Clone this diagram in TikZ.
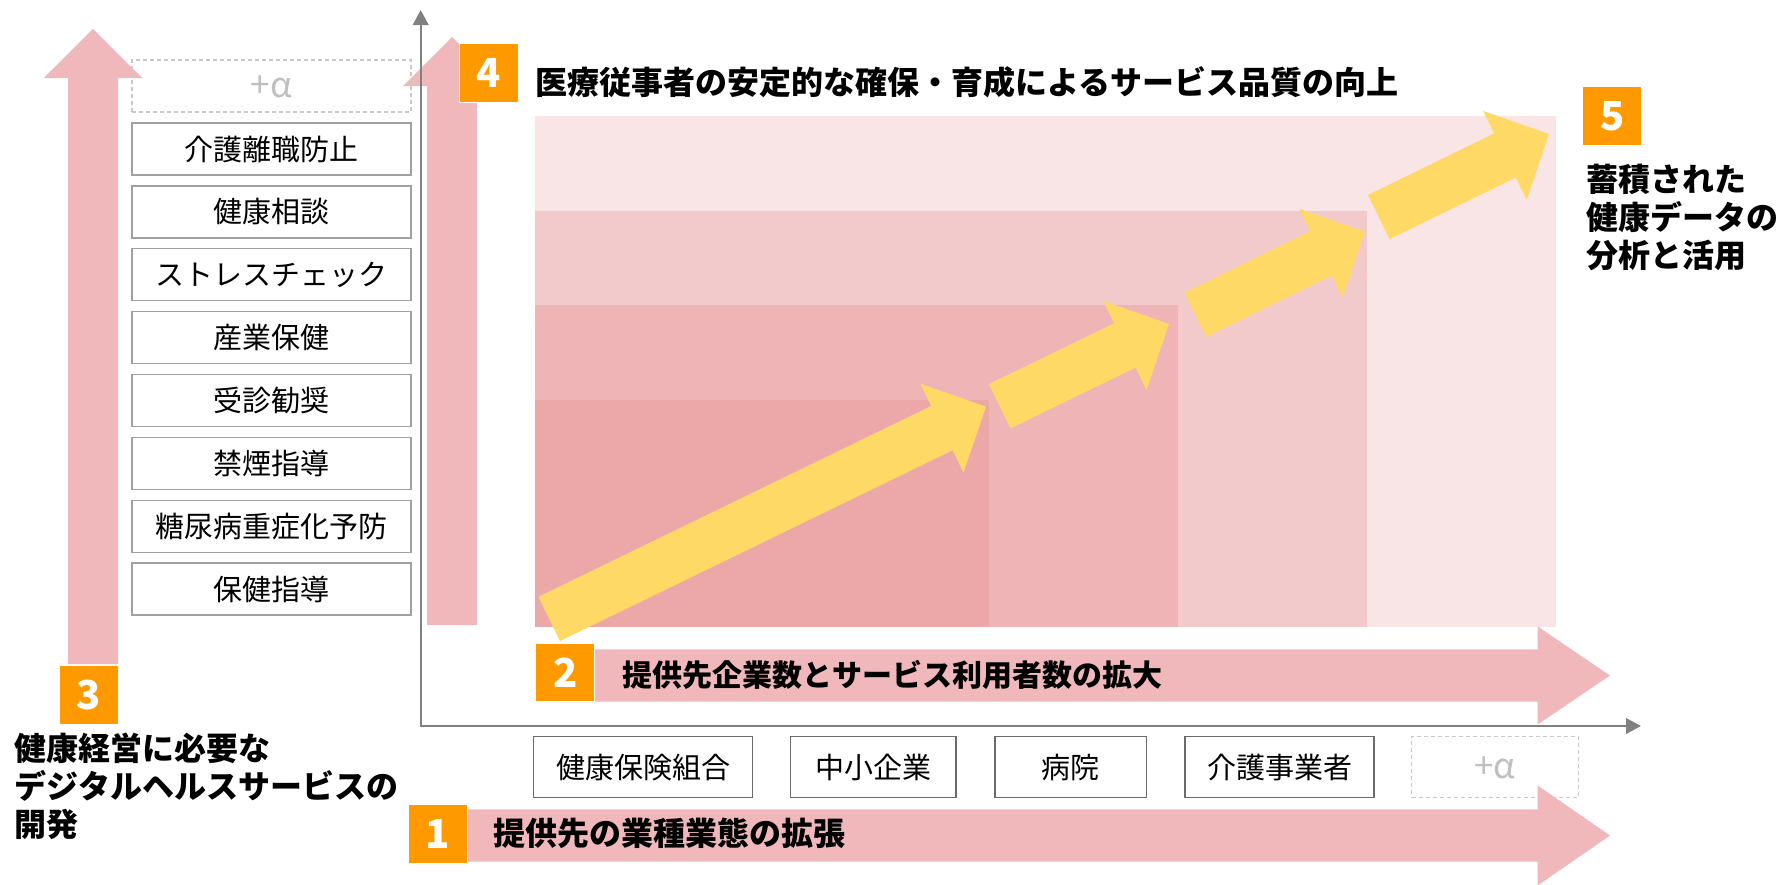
\documentclass[tikz,border=0pt]{standalone}
\usepackage{fontspec}
\setmainfont{Noto Sans CJK JP}
\usetikzlibrary{calc,arrows.meta}
\definecolor{pinkarrow}{HTML}{F0B8BB}
\definecolor{bgone}{HTML}{FAE5E6}
\definecolor{bgtwo}{HTML}{F3CACC}
\definecolor{bgthree}{HTML}{EFB5B6}
\definecolor{bgfour}{HTML}{ECA7A8}
\definecolor{yel}{HTML}{FFD966}
\definecolor{badgeorange}{HTML}{FF9900}
\definecolor{axisgray}{HTML}{808080}
\definecolor{plusgray}{HTML}{BFBFBF}
\definecolor{lboxgray}{HTML}{A0A0A0}
\definecolor{bboxgray}{HTML}{6B6B6B}
\definecolor{dashgray}{HTML}{C8C8C8}
% #1 style, #2 tail, #3 tip, #4 shaft half width, #5 head half width, #6 head length
\newcommand\fatarrow[6]{%
  \coordinate (#2hb) at ($(#3)!#6pt!(#2)$);
  \fill[#1] ($(#2)!#4pt!90:(#3)$) -- ($(#2hb)!#4pt!90:(#3)$) -- ($(#2hb)!#5pt!90:(#3)$)
    -- (#3) -- ($(#2hb)!#5pt!-90:(#3)$) -- ($(#2hb)!#4pt!-90:(#3)$) -- ($(#2)!#4pt!-90:(#3)$) -- cycle;}
\begin{document}
\begin{tikzpicture}[x=1pt,y=-1pt,
  regtext/.style={font=\fontsize{29}{35}\selectfont, text height=25.5pt, text depth=3.5pt},
  boldtext/.style={font=\bfseries\fontsize{32}{38}\selectfont, text height=28.2pt, text depth=3.8pt, inner sep=0pt, anchor=west},
  lbox/.style={regtext, draw=lboxgray, line width=1.3pt, minimum width=279pt, minimum height=52pt, inner sep=0pt},
  bbox/.style={regtext, draw=bboxgray, line width=1.5pt, minimum height=60.6pt, inner sep=0pt},
  dashbox/.style={draw=dashgray, line width=1.3pt, dash pattern=on 4pt off 3pt, text=plusgray, font=\fontsize{35}{40}\selectfont},
  badge/.style={fill=badgeorange, draw=white, line width=1pt, minimum width=59pt, minimum height=58.5pt, inner sep=0pt, text=white, font=\bfseries\fontsize{40}{44}\selectfont},
  axisline/.style={draw=axisgray, line width=2.2pt, {Triangle[length=15pt,width=15.5pt]}-{Triangle[length=15pt,width=15.5pt]}}
]
\useasboundingbox (0,0) rectangle (1783,884);
% background levels
\fill[bgone] (535,115.7) rectangle (1555.7,626.7);
\fill[bgtwo] (535,211) rectangle (1366.7,626.7);
\fill[bgthree] (535,305) rectangle (1177.7,626.7);
\fill[bgfour] (535,400) rectangle (989,626.7);
% yellow growth arrows
\coordinate (ya) at (549.2,618.9); \coordinate (yae) at (986,406.7);
\coordinate (yb) at (999.8,406.2); \coordinate (ybe) at (1169,324);
\coordinate (yc) at (1195.5,314.7); \coordinate (yce) at (1365,231.7);
\coordinate (yd) at (1378.8,217); \coordinate (yde) at (1549,134);
\fatarrow{yel}{ya}{yae}{24.6}{49.5}{49}
\fatarrow{yel}{yb}{ybe}{24.6}{49.5}{49}
\fatarrow{yel}{yc}{yce}{24.6}{49.5}{49}
\fatarrow{yel}{yd}{yde}{24.6}{49.5}{49}
% pink big arrows
\coordinate (pa) at (440,835.5); \coordinate (pae) at (1610,835.5);
\coordinate (pb) at (560,675.5); \coordinate (pbe) at (1610,675.5);
\coordinate (pc) at (93,664); \coordinate (pce) at (93,29);
\coordinate (pd) at (452,625); \coordinate (pde) at (452,37);
\fatarrow{pinkarrow}{pa}{pae}{26.2}{50}{72.3}
\fatarrow{pinkarrow}{pb}{pbe}{26.2}{49}{72.3}
\fatarrow{pinkarrow}{pc}{pce}{25}{49.3}{49}
\fatarrow{pinkarrow}{pd}{pde}{25}{49}{49}
% left list of services
\node[lbox, dashbox] (lplus) at (271.5,86) {+α};
\node[lbox] (l1) at (271.5,149) {介護離職防止};
\node[lbox] (l2) at (271.5,211.9) {健康相談};
\node[lbox] (l3) at (271.5,274.7) {ストレスチェック};
\node[lbox] (l4) at (271.5,337.6) {産業保健};
\node[lbox] (l5) at (271.5,400.4) {受診勧奨};
\node[lbox] (l6) at (271.5,463.3) {禁煙指導};
\node[lbox] (l7) at (271.5,526.2) {糖尿病重症化予防};
\node[lbox] (l8) at (271.5,589) {保健指導};
% bottom list of industries
\node[bbox, minimum width=219.4pt] (b1) at (643,767) {健康保険組合};
\node[bbox, minimum width=165.5pt] (b2) at (873.3,767) {中小企業};
\node[bbox, minimum width=151.6pt] (b3) at (1070.8,767) {病院};
\node[bbox, minimum width=189pt] (b4) at (1279.5,767) {介護事業者};
\node[bbox, dashbox, minimum width=167pt] (b5) at (1495.2,767) {+α};
% axes
\coordinate (O) at (420.7,726);
\coordinate (ytop) at (420.7,10);
\coordinate (xend) at (1641,726);
\draw[axisline] (ytop) -- (O) -- (xend);
% badges
\node[badge] (n1) at (437.8,834.2) {1};
\node[badge] (n2) at (565.3,672.5) {2};
\node[badge] (n3) at (88.8,695.2) {3};
\node[badge] (n4) at (488.5,73) {4};
\node[badge] (n5) at (1612.2,116.2) {5};
% texts
\node[boldtext] (t4) at (535,82.5) {医療従事者の安定的な確保・育成によるサービス品質の向上};
\node[boldtext, font=\bfseries\fontsize{30}{36}\selectfont] (t2) at (622.5,674.5) {提供先企業数とサービス利用者数の拡大};
\node[boldtext] (t1) at (493.5,833) {提供先の業種業態の拡張};
\node[boldtext] (t5a) at (1586,179) {蓄積された};
\node[boldtext] (t5b) at (1586,217) {健康データの};
\node[boldtext] (t5c) at (1586,255) {分析と活用};
\node[boldtext] (t3a) at (14.5,748.3) {健康経営に必要な};
\node[boldtext] (t3b) at (14.5,786.3) {デジタルヘルスサービスの};
\node[boldtext] (t3c) at (14.5,824.3) {開発};
\end{tikzpicture}
\end{document}
